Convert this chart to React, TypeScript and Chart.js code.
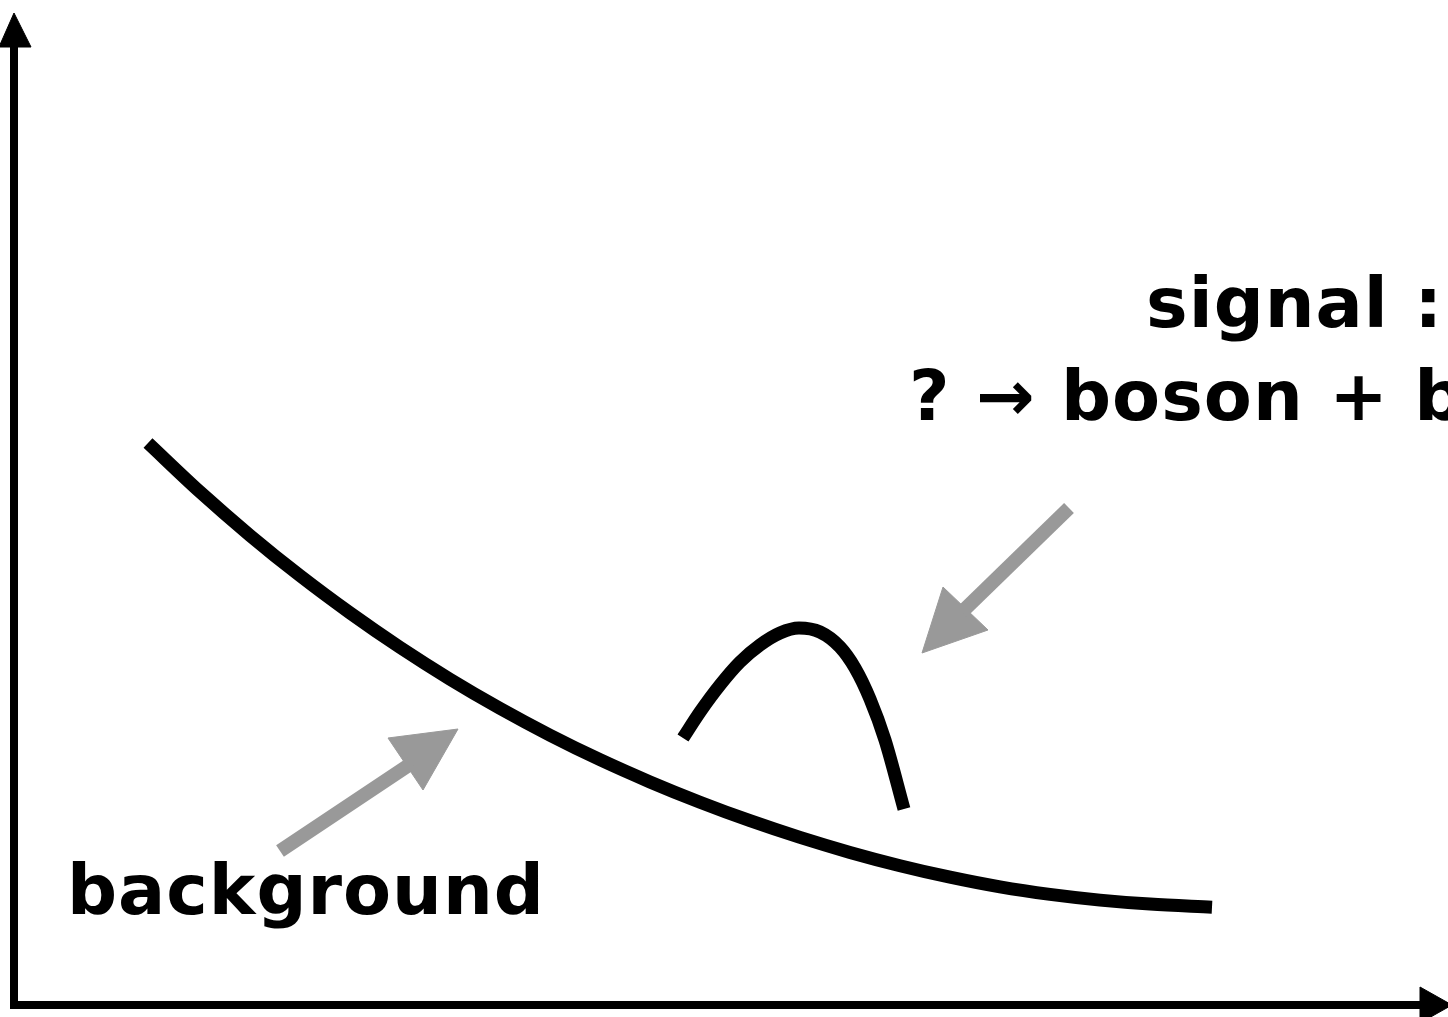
import React, { useEffect, useRef } from "react";
import { Chart, registerables } from "chart.js";

Chart.register(...registerables);

// Schematic coordinates (arbitrary units; x grows right, y grows downward)
const xRange = [0, 1448];
const yRange = [0, 1017];

// Falling background spectrum
const backgroundX = [148, 200, 250, 300, 350, 400, 450, 500, 550, 600, 650, 700, 750, 800, 850, 900, 950, 1000, 1050, 1100, 1150, 1212];
const backgroundY = [443, 491.9, 535.4, 575.7, 612.9, 647.4, 679.2, 708.4, 735.2, 759.7, 781.9, 802.2, 820.7, 837.4, 852.4, 865.7, 877.2, 886.9, 894.4, 900.1, 904.1, 907.2];

// Signal bump
const signalX = [683, 700, 720, 740, 760, 780, 799, 820, 840, 855, 870, 885, 904];
const signalY = [738, 712, 685, 662, 645, 633, 628, 632, 647, 668, 699, 740, 809];

// Axes (L-shaped) and their arrow heads
const axisX = [14, 14, 1425];
const axisY = [40, 1005, 1005];
const yHeadX = [-1, 14, 31, -1];
const yHeadY = [47, 13, 47, 47];
const xHeadX = [1420, 1452, 1420, 1420];
const xHeadY = [987, 1005, 1023, 987];

// Grey pointer arrows
const bgArrowX = [280, 412];
const bgArrowY = [851, 763];
const bgHeadX = [388, 458, 423, 388];
const bgHeadY = [738, 729, 790, 738];
const sigArrowX = [1069, 962];
const sigArrowY = [508, 612];
const sigHeadX = [943, 922, 988, 943];
const sigHeadY = [587, 653, 630, 587];

// Labels
const labelTexts = ["signal :", "? \u2192 boson + b", "background"];
const labelX = [1146, 909, 67];
const labelY = [327, 420, 914];

const pts = (xs: number[], ys: number[]) => xs.map((x, i) => ({ x, y: ys[i] }));

const labelPlugin = {
  id: "labels",
  afterDatasetsDraw(chart: any) {
    const { ctx, scales } = chart;
    ctx.save();
    ctx.fillStyle = "#000";
    ctx.font = 'bold 70px "DejaVu Sans"';
    try { (ctx as any).letterSpacing = "1px"; } catch (e) {}
    ctx.textAlign = "left";
    ctx.textBaseline = "alphabetic";
    labelTexts.forEach((t, i) => {
      ctx.fillText(t, scales.x.getPixelForValue(labelX[i]), scales.y.getPixelForValue(labelY[i]));
    });
    ctx.restore();
  },
};

export default function App() {
  const ref = useRef<HTMLCanvasElement | null>(null);
  useEffect(() => {
    if (!ref.current) return;
    const line = (xs: number[], ys: number[], color: string, width: number, smooth: boolean) => ({
      data: pts(xs, ys),
      borderColor: color,
      borderWidth: width,
      borderCapStyle: "butt",
      borderJoinStyle: "miter",
      pointRadius: 0,
      fill: false,
      tension: 0,
      cubicInterpolationMode: smooth ? "monotone" : "default",
      clip: false,
    });
    const tri = (xs: number[], ys: number[], color: string) => ({
      data: pts(xs, ys),
      borderColor: color,
      backgroundColor: color,
      borderWidth: 1,
      pointRadius: 0,
      fill: "shape",
      tension: 0,
      clip: false,
    });
    const chart = new Chart(ref.current, {
      type: "line",
      data: {
        datasets: [
          line(backgroundX, backgroundY, "#000", 13, true),
          line(signalX, signalY, "#000", 13, true),
          line(axisX, axisY, "#000", 8, false),
          tri(yHeadX, yHeadY, "#000"),
          tri(xHeadX, xHeadY, "#000"),
          line(bgArrowX, bgArrowY, "#999999", 14, false),
          tri(bgHeadX, bgHeadY, "#999999"),
          line(sigArrowX, sigArrowY, "#999999", 14, false),
          tri(sigHeadX, sigHeadY, "#999999"),
        ] as any,
      },
      options: {
        animation: false,
        responsive: false,
        events: [],
        layout: { padding: 0 },
        plugins: { legend: { display: false }, tooltip: { enabled: false } },
        scales: {
          x: { type: "linear", min: xRange[0], max: xRange[1], display: false },
          y: { type: "linear", min: yRange[0], max: yRange[1], reverse: true, display: false },
        },
      },
      plugins: [labelPlugin],
    });
    return () => chart.destroy();
  }, []);
  return (
    <div style={{ position: "absolute", left: 0, top: 0, width: 1448, height: 1017, background: "#fff", overflow: "hidden" }}>
      <canvas ref={ref} width={1448} height={1017} style={{ display: "block" }} />
    </div>
  );
}
